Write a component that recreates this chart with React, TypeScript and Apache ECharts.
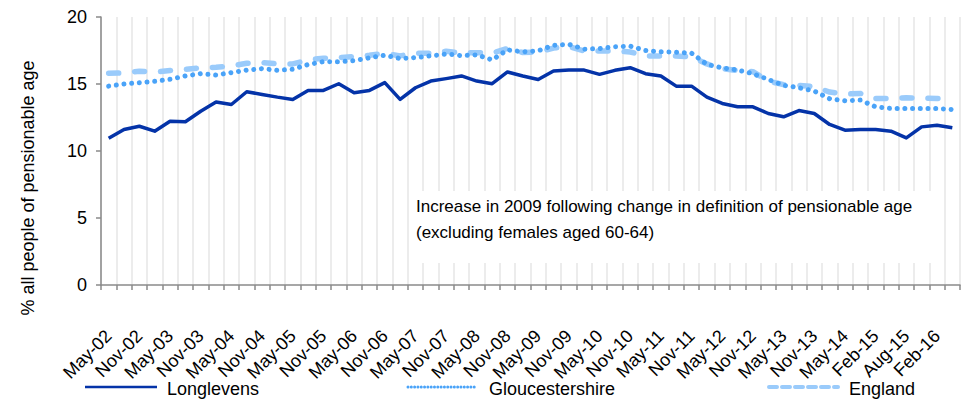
import React, { useEffect, useRef } from "react";
import * as echarts from "echarts";

const categories = [
  "May-02", "Aug-02", "Nov-02", "Feb-03", "May-03", "Aug-03", "Nov-03", "Feb-04",
  "May-04", "Aug-04", "Nov-04", "Feb-05", "May-05", "Aug-05", "Nov-05", "Feb-06",
  "May-06", "Aug-06", "Nov-06", "Feb-07", "May-07", "Aug-07", "Nov-07", "Feb-08",
  "May-08", "Aug-08", "Nov-08", "Feb-09", "May-09", "Aug-09", "Nov-09", "Feb-10",
  "May-10", "Aug-10", "Nov-10", "Feb-11", "May-11", "Aug-11", "Nov-11", "Feb-12",
  "May-12", "Aug-12", "Nov-12", "Feb-13", "May-13", "Aug-13", "Nov-13", "Feb-14",
  "May-14", "Nov-14", "Feb-15", "May-15", "Aug-15", "Nov-15", "Feb-16", "May-16",
];

const longlevens = [
  10.95, 11.6, 11.85, 11.48, 12.22, 12.18, 12.97, 13.65, 13.47, 14.42, 14.22, 14.02, 13.85, 14.52,
  14.52, 15.02, 14.35, 14.52, 15.1, 13.85, 14.72, 15.22, 15.4, 15.6, 15.22, 15.02, 15.9, 15.6,
  15.34, 15.97, 16.04, 16.04, 15.72, 16.02, 16.22, 15.77, 15.6, 14.84, 14.84, 14.02, 13.55, 13.3,
  13.3, 12.8, 12.55, 13.02, 12.8, 11.98, 11.55, 11.6, 11.6, 11.48, 10.98, 11.8, 11.92, 11.73,
];

const gloucestershire = [
  14.84, 15.0, 15.1, 15.2, 15.35, 15.6, 15.77, 15.67, 15.85, 16.04, 16.15, 16.02, 16.1, 16.45,
  16.67, 16.65, 16.75, 16.95, 17.15, 16.9, 16.97, 17.1, 17.24, 17.12, 17.18, 16.8, 17.55, 17.4,
  17.48, 17.89, 17.96, 17.6, 17.64, 17.78, 17.82, 17.5, 17.4, 17.37, 17.3, 16.47, 16.2, 16.04,
  15.77, 15.34, 14.9, 14.72, 14.47, 13.9, 13.75, 13.8, 13.3, 13.17, 13.17, 13.17, 13.17, 13.1,
];

const england = [
  15.8, 15.82, 15.95, 15.9, 16.0, 16.1, 16.2, 16.25, 16.35, 16.55, 16.6, 16.5, 16.5, 16.8,
  16.92, 16.97, 17.05, 17.14, 17.29, 17.1, 17.29, 17.3, 17.45, 17.3, 17.34, 17.3, 17.65, 17.35,
  17.39, 17.68, 17.79, 17.46, 17.46, 17.46, 17.39, 17.09, 17.09, 17.09, 17.04, 16.5, 16.14, 16.0,
  15.92, 15.22, 14.95, 14.9, 14.8, 14.4, 14.25, 14.3, 13.92, 13.92, 13.97, 13.95, 13.92, 13.9,
];

const yTicks = { min: 0, max: 20, interval: 5 };
const yAxisTitle = "% all people of pensionable age";
const noteLines = [
  "Increase in 2009 following change in definition of pensionable age",
  "(excluding females aged 60-64)",
];

const FONT = "'Liberation Sans', Arial, sans-serif";
const C_LONG = "#0433A8";
const C_GLOS = "#4AA3F8";
const C_ENG = "#9ACBFB";

const LEGEND_Y = 387;

export default function App() {
  const ref = useRef<HTMLDivElement>(null);
  useEffect(() => {
    if (!ref.current) return;
    const chart = echarts.init(ref.current, undefined, { renderer: "svg" });
    const legendBase = {
      top: 375,
      itemWidth: 72,
      itemHeight: 14,
      textStyle: { fontFamily: FONT, fontSize: 18, color: "#000" },
      selectedMode: false,
    };
    const sample = (x1: number, x2: number, lineStyle: any) => ({
      type: "line",
      shape: { x1, y1: LEGEND_Y, x2, y2: LEGEND_Y },
      style: lineStyle,
      z: 5,
    });
    chart.setOption({
      animation: false,
      backgroundColor: "#fff",
      grid: { left: 101, right: 5, top: 17, bottom: 115, containLabel: false },
      xAxis: {
        type: "category",
        data: categories,
        boundaryGap: true,
        axisLine: { lineStyle: { color: "#8a8a8a", width: 1.5 } },
        axisTick: { show: true, interval: 0, length: 5, lineStyle: { color: "#8a8a8a", width: 1.5 } },
        splitLine: { show: true, interval: 0, lineStyle: { color: "#ececec", width: 2 } },
        axisLabel: {
          interval: 1,
          rotate: 45,
          margin: 48,
          fontFamily: FONT,
          fontSize: 18,
          color: "#000",
        },
      },
      yAxis: {
        type: "value",
        min: yTicks.min,
        max: yTicks.max,
        interval: yTicks.interval,
        axisLine: { show: true, lineStyle: { color: "#8a8a8a", width: 1.5 } },
        axisTick: { show: true, length: 5, lineStyle: { color: "#8a8a8a", width: 1.5 } },
        splitLine: { show: false },
        axisLabel: { margin: 14, fontFamily: FONT, fontSize: 18, color: "#000" },
      },
      legend: [
        { ...legendBase, left: 85, data: [{ name: "Longlevens", icon: "none" }] },
        { ...legendBase, left: 407, data: [{ name: "Gloucestershire", icon: "none" }] },
        { ...legendBase, left: 767, data: [{ name: "England", icon: "none" }] },
      ],
      series: [
        {
          name: "England",
          type: "line",
          data: england,
          symbol: "none",
          showSymbol: false,
          z: 2,
          lineStyle: { color: C_ENG, width: 5.5, type: [10, 16], cap: "round", join: "round" },
          itemStyle: { color: C_ENG },
        },
        {
          name: "Gloucestershire",
          type: "line",
          data: gloucestershire,
          symbol: "none",
          showSymbol: false,
          z: 3,
          lineStyle: { color: C_GLOS, width: 5, type: [0.01, 7.7], cap: "round", join: "round" },
          itemStyle: { color: C_GLOS },
        },
        {
          name: "Longlevens",
          type: "line",
          data: longlevens,
          symbol: "none",
          showSymbol: false,
          z: 4,
          lineStyle: { color: C_LONG, width: 3.5, join: "round" },
          itemStyle: { color: C_LONG },
        },
      ],
      graphic: [
        {
          type: "text",
          x: 28,
          y: 188,
          rotation: Math.PI / 2,
          style: {
            text: yAxisTitle,
            fontFamily: FONT,
            fontSize: 18,
            fill: "#000",
            align: "center",
            verticalAlign: "middle",
          },
        },
        {
          type: "rect",
          shape: { x: 409, y: 191, width: 522, height: 72 },
          style: { fill: "#fff" },
          z: 1,
        },
        {
          type: "text",
          left: 416,
          top: 193,
          z: 2,
          style: {
            text: noteLines.join("\n"),
            fontFamily: FONT,
            fontSize: 17,
            lineHeight: 26,
            fill: "#000",
          },
        },
        sample(85, 157, { stroke: C_LONG, lineWidth: 2.5 }),
        sample(408, 477, { stroke: C_GLOS, lineWidth: 3, lineDash: [0.01, 3.3], lineCap: "round" }),
        sample(769, 838, { stroke: C_ENG, lineWidth: 4, lineDash: [8, 5], lineCap: "round" }),
      ],
    });
    return () => chart.dispose();
  }, []);
  return (
    <div
      ref={ref}
      style={{ position: "fixed", left: 0, top: 0, width: 965, height: 400, background: "#fff" }}
    />
  );
}
